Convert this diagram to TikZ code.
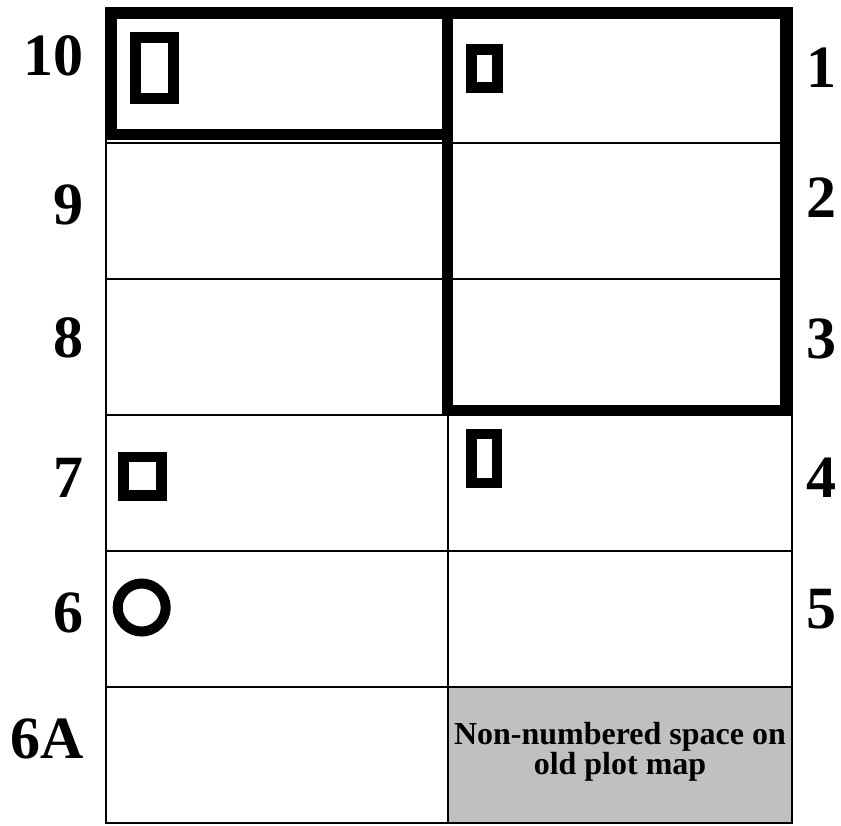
\documentclass[tikz,border=0pt]{standalone}
\usepackage{fontspec}
\setmainfont{Liberation Serif}
\definecolor{oldgray}{HTML}{C0C0C0}
\tikzset{
  gridline/.style={line width=1.3pt},
  heavyline/.style={line width=11pt},
  plotbox/.style={line width=10.5pt},
  plotnum/.style={font=\bfseries\fontsize{60}{60}\selectfont,inner sep=0pt},
}
\begin{document}
\begin{tikzpicture}[x=1pt,y=-1pt]
\useasboundingbox (0,0) rectangle (841,825);
% shaded space
\fill[oldgray] (448,687) rectangle (792,823);
\node[font=\bfseries\fontsize{32}{30}\selectfont,align=center,inner sep=0pt] (oldspace) at (620,752) {Non-numbered space on\\old plot map};
% grid
\foreach \y in {143,279,415,551,687}
  \draw[gridline] (106,\y) -- (792,\y);
\draw[gridline] (106,8) rectangle (792,823);
\draw[gridline] (448,8) -- (448,823);
% heavy outlines
\draw[heavyline] (111.5,13) rectangle (447.5,134);
\draw[heavyline] (447.5,13) rectangle (785,410);
% markers
\draw[plotbox] (135.5,37.5) rectangle (173.5,98.5);
\draw[plotbox] (471.5,49.5) rectangle (497.5,87.5);
\draw[plotbox] (471.5,434) rectangle (497,483);
\draw[plotbox] (123.5,457) rectangle (161.5,495.5);
\draw[line width=10pt] (141.7,607.5) circle (24);
% plot numbers, left
\node[plotnum,anchor=base east] (p10) at (84,75) {10};
\node[plotnum,anchor=base east] (p9) at (84,224) {9};
\node[plotnum,anchor=base east] (p8) at (84,357) {8};
\node[plotnum,anchor=base east] (p7) at (84,497) {7};
\node[plotnum,anchor=base east] (p6) at (84,632) {6};
\node[plotnum,anchor=base east] (p6a) at (84,758) {6A};
% plot numbers, right
\node[plotnum,anchor=base west] (p1) at (806,87) {1};
\node[plotnum,anchor=base west] (p2) at (806,217) {2};
\node[plotnum,anchor=base west] (p3) at (806,358) {3};
\node[plotnum,anchor=base west] (p4) at (806,497) {4};
\node[plotnum,anchor=base west] (p5) at (806,628) {5};
\end{tikzpicture}
\end{document}
